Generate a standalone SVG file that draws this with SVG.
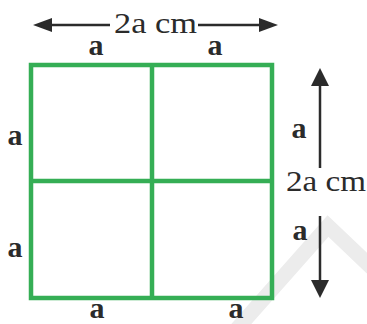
<svg xmlns="http://www.w3.org/2000/svg" width="367" height="324" viewBox="0 0 367 324">
<style>
.lbl{font-family:"Liberation Serif","DejaVu Serif",serif;font-weight:bold;font-size:30px;fill:#2b2b2b;text-anchor:middle}
.dim{font-family:"Liberation Serif","DejaVu Serif",serif;font-size:30px;fill:#2b2b2b}
.grid{fill:none;stroke:#35ae55;stroke-width:4.5}
.arr{stroke:#2b2b2b;stroke-width:2.5;fill:none}
.head{fill:#2b2b2b}
</style>
<rect width="367" height="324" fill="#fff"/>
<polyline points="236,330 328,226 372,268" fill="none" stroke="#ececec" stroke-width="15"/>
<g id="square">
<rect class="grid" x="31" y="65" width="241" height="233"/>
<line class="grid" x1="152" y1="65" x2="152" y2="298"/>
<line class="grid" x1="31" y1="181" x2="272" y2="181"/>
</g>
<g id="connectors">
<line class="arr" x1="48" y1="25" x2="110" y2="25"/>
<polygon class="head" points="33,25 52,18 52,32"/>
<line class="arr" x1="198" y1="25" x2="262" y2="25"/>
<polygon class="head" points="278,25 259,18 259,32"/>
<line class="arr" x1="320" y1="82" x2="320" y2="168"/>
<polygon class="head" points="320,68 311,86 329,86"/>
<line class="arr" x1="320" y1="216" x2="320" y2="284"/>
<polygon class="head" points="320,298 311,280 329,280"/>
</g>
<g id="labels">
<text class="dim" x="114" y="33" textLength="83" lengthAdjust="spacingAndGlyphs">2a cm</text>
<text class="dim" x="286" y="191" textLength="80" lengthAdjust="spacingAndGlyphs">2a cm</text>
<text class="lbl" x="96" y="55">a</text>
<text class="lbl" x="215" y="55">a</text>
<text class="lbl" x="15" y="145">a</text>
<text class="lbl" x="15" y="257">a</text>
<text class="lbl" x="97" y="318">a</text>
<text class="lbl" x="236" y="318">a</text>
<text class="lbl" x="299" y="138">a</text>
<text class="lbl" x="300" y="240">a</text>
</g>
</svg>
